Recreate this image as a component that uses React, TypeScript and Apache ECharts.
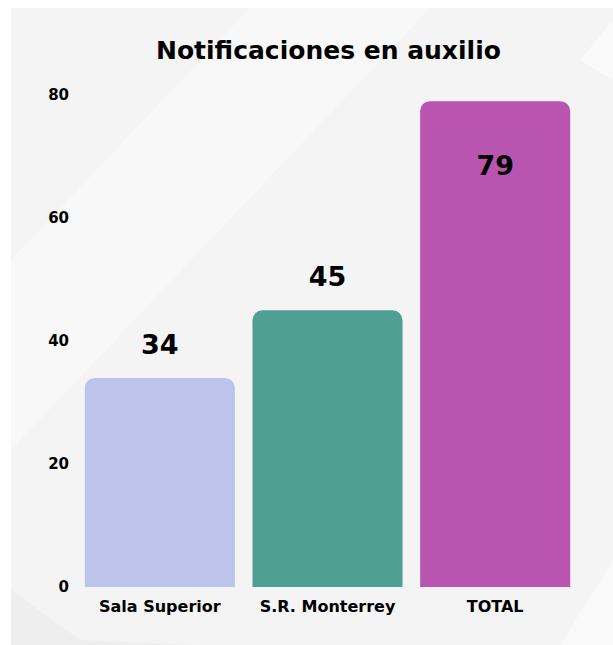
import React, { useEffect, useRef } from "react";
import * as echarts from "echarts";

const categories = ["Sala Superior", "S.R. Monterrey", "TOTAL"];
const values = [34, 45, 79];
const barColors = ["#BCC4EB", "#4FA093", "#B955B1"];
const yTicks = [0, 20, 40, 60, 80];
const titleText = "Notificaciones en auxilio";

export default function App() {
  const ref = useRef<HTMLDivElement>(null);
  useEffect(() => {
    if (!ref.current) return;
    const chart = echarts.init(ref.current, undefined, { renderer: "svg" });
    const font = "'DejaVu Sans', sans-serif";
    chart.setOption({
      animation: false,
      backgroundColor: "#ffffff",
      graphic: [
        { type: "rect", z: -10, shape: { x: 11, y: 8, width: 602, height: 637 }, style: { fill: "#F4F4F4" }, silent: true },
        { type: "polygon", z: -9, shape: { points: [[11, 260], [250, 8], [430, 8], [11, 450]] }, style: { fill: "#F8F8F8" }, silent: true },
        { type: "polygon", z: -9, shape: { points: [[11, 590], [80, 640], [200, 645], [11, 645]] }, style: { fill: "#EEEEEE" }, silent: true },
        { type: "polygon", z: -9, shape: { points: [[560, 645], [613, 560], [613, 645]] }, style: { fill: "#F9F9F9" }, silent: true },
        { type: "polygon", z: -9, shape: { points: [[580, 60], [613, 20], [613, 80]] }, style: { fill: "#FAFAFA" }, silent: true },
      ],
      title: {
        text: titleText,
        left: 151,
        top: 33,
        textStyle: { fontFamily: font, fontWeight: "bold", fontSize: 25, color: "#000" },
      },
      grid: { left: 76, right: 34, top: 95, bottom: 58 },
      xAxis: {
        type: "category",
        data: categories,
        axisLine: { show: false },
        axisTick: { show: false },
        axisLabel: { interval: 0, hideOverlap: false, color: "#000", fontFamily: font, fontWeight: "bold", fontSize: 16, margin: 11 },
      },
      yAxis: {
        type: "value",
        min: yTicks[0],
        max: yTicks[yTicks.length - 1],
        interval: 20,
        splitLine: { show: false },
        axisLine: { show: false },
        axisTick: { show: false },
        axisLabel: { color: "#000", fontFamily: font, fontWeight: "bold", fontSize: 15, margin: 7 },
      },
      series: [
        {
          type: "bar",
          barCategoryGap: "10.5%",
          data: values.map((v, i) => ({
            value: v,
            itemStyle: { color: barColors[i], borderRadius: [10, 10, 0, 0] },
            label: i === values.length - 1 ? { position: "insideTop", distance: 51 } : { position: "top", distance: 20 },
          })),
          label: {
            show: true,
            color: "#000",
            fontFamily: font,
            fontWeight: "bold",
            fontSize: 27,
            textShadowColor: "rgba(255,255,255,0.35)",
            textShadowBlur: 0,
            textShadowOffsetX: 1,
            textShadowOffsetY: 1,
          },
        },
      ],
    });
    return () => chart.dispose();
  }, []);
  return <div ref={ref} style={{ position: "fixed", left: 0, top: 0, width: 613, height: 645 }} />;
}
